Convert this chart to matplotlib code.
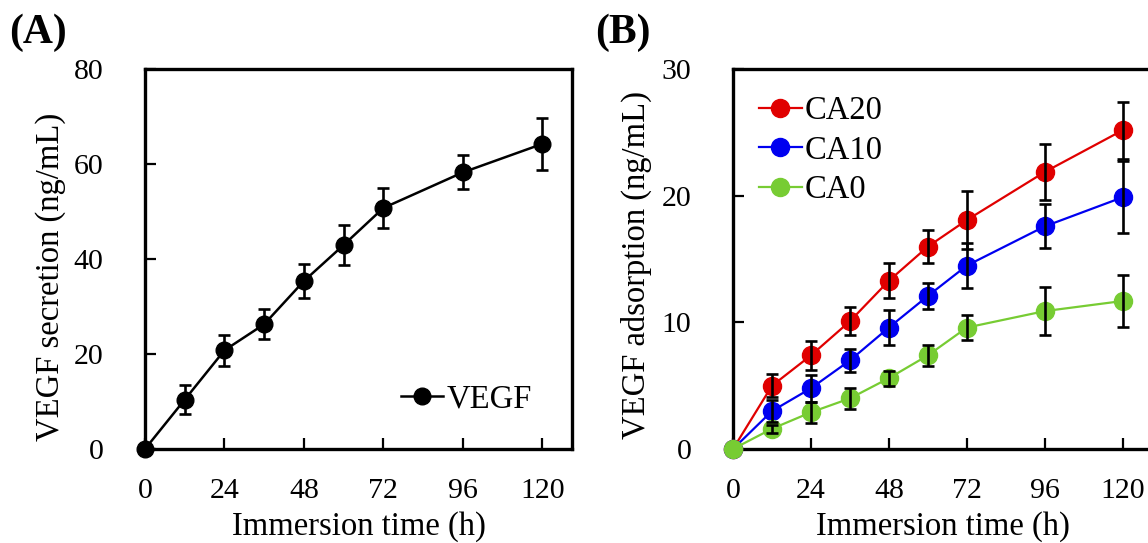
import matplotlib
matplotlib.use("Agg")
import matplotlib.pyplot as plt

plt.rcParams["font.family"] = ["Liberation Serif", "DejaVu Serif"]

# ── data ──
hours = [0, 12, 24, 36, 48, 60, 72, 96, 120]

vegf = [0, 10.4, 20.8, 26.3, 35.4, 43.0, 50.8, 58.3, 64.3]
vegf_err = [0, 3.0, 3.3, 3.2, 3.6, 4.2, 4.2, 3.6, 5.5]

ca20 = [0, 5.0, 7.4, 10.1, 13.3, 16.0, 18.1, 21.9, 25.2]
ca20_err = [0, 0.9, 1.15, 1.1, 1.4, 1.3, 2.3, 2.2, 2.25]
ca10 = [0, 3.0, 4.8, 7.0, 9.6, 12.1, 14.5, 17.6, 19.9]
ca10_err = [0, 0.9, 1.05, 0.9, 1.35, 1.05, 1.8, 1.75, 2.85]
ca0 = [0, 1.6, 2.9, 4.0, 5.6, 7.4, 9.6, 10.9, 11.7]
ca0_err = [0, 0.3, 0.85, 0.8, 0.6, 0.85, 1.0, 1.9, 2.05]

x_ticks = [0, 24, 48, 72, 96, 120]

FS = 21.5     # tick labels
LFS = 23.5    # axis labels / legends

fig = plt.figure(figsize=(11.48, 5.43), dpi=100)
axA = fig.add_axes([0.1263, 0.1731, 0.372, 0.699])
axB = fig.add_axes([0.6385, 0.1731, 0.365, 0.699])


def style(ax, ymax, yticks):
    ax.set_xlim(0, 129)
    ax.set_ylim(0, ymax)
    ax.set_xticks(x_ticks)
    ax.set_yticks(yticks)
    ax.tick_params(direction="in", length=8, width=1.6, labelsize=FS)
    ax.tick_params(axis="x", pad=21)
    ax.tick_params(axis="y", pad=30)
    for s in ax.spines.values():
        s.set_linewidth(2.4)
    ax.set_xlabel("Immersion time (h)", fontsize=LFS)
    ax.xaxis.set_label_coords(0.5, -0.165)


def draw(ax, y, err, color, label, ms, lw):
    ax.plot(hours, y, "-o", color=color, mfc=color, mec=color, ms=ms, lw=lw,
            label=label, clip_on=False, zorder=3)
    ax.errorbar(hours[1:], y[1:], yerr=err[1:], fmt="none", ecolor="black",
                elinewidth=1.9, capsize=4, capthick=1.9, zorder=4)


# ── panel A ──
draw(axA, vegf, vegf_err, "black", "VEGF", 12, 1.8)
style(axA, 80, [0, 20, 40, 60, 80])
axA.set_ylabel("VEGF secretion (ng/mL)", fontsize=LFS)
axA.yaxis.set_label_coords(-0.185, 0.453)
axA.legend(loc="lower right", bbox_to_anchor=(0.96, 0.03), frameon=False,
           fontsize=LFS, handlelength=1.3, handletextpad=0.1, borderpad=0.2)

# ── panel B ──
draw(axB, ca20, ca20_err, "#e00000", "CA20", 13, 1.6)
draw(axB, ca10, ca10_err, "#0000f0", "CA10", 13, 1.6)
draw(axB, ca0, ca0_err, "#77cc33", "CA0", 13, 1.6)
style(axB, 30, [0, 10, 20, 30])
axB.set_ylabel("VEGF adsorption (ng/mL)", fontsize=LFS)
axB.yaxis.set_label_coords(-0.193, 0.485)
axB.legend(loc="upper left", bbox_to_anchor=(0.0, 1.0), frameon=False,
           fontsize=LFS, handlelength=1.3, handletextpad=0.1, borderpad=0.3,
           labelspacing=0.28)

fig.text(0.008, 0.94, "(A)", fontsize=30, fontweight="bold", va="center")
fig.text(0.518, 0.94, "(B)", fontsize=30, fontweight="bold", va="center")

fig.savefig("out.png", dpi=100)
